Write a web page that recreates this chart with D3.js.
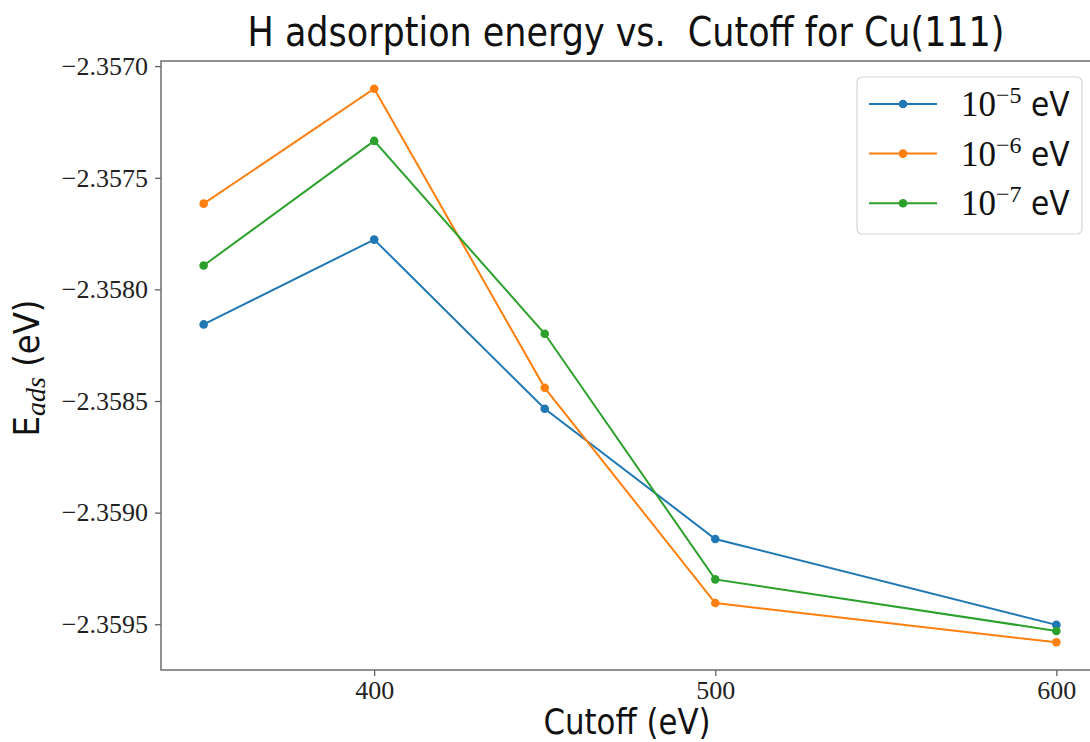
<!DOCTYPE html>
<html>
<head>
<meta charset="utf-8">
<script src="https://cdn.jsdelivr.net/npm/d3@7/dist/d3.min.js"></script>
<style>
  html, body { margin: 0; padding: 0; background: #fff; }
  svg { display: block; }
</style>
</head>
<body>
<svg id="chart" width="1090" height="742"></svg>
<script>
// Plane-wave cutoff energies (eV)
const cutoffs = [350, 400, 450, 500, 600];

// H adsorption energy (eV) for each SCF convergence threshold
const eads1e5 = [-2.358157, -2.357777, -2.358535, -2.359118, -2.359503];
const eads1e6 = [-2.357616, -2.357101, -2.358441, -2.359405, -2.359581];
const eads1e7 = [-2.357893, -2.357335, -2.358199, -2.359299, -2.359530];

const seriesNames = [["10", "\u22125", " eV"], ["10", "\u22126", " eV"], ["10", "\u22127", " eV"]];
const seriesColors = ["#1f77b4", "#ff7f0e", "#2ca02c"];

const xTicks = [400, 500, 600];
const yTicks = [-2.3570, -2.3575, -2.3580, -2.3585, -2.3590, -2.3595];

const series = [eads1e5, eads1e6, eads1e7].map((vals, i) => ({
  name: seriesNames[i],
  color: seriesColors[i],
  points: cutoffs.map((c, j) => ({ x: c, y: vals[j] }))
}));

const svg = d3.select("#chart");
const plot = { left: 161, right: 1099, top: 61, bottom: 670 };

// Axis limits padded by 5% of the data span on each side
const allY = [].concat(eads1e5, eads1e6, eads1e7);
const xExt = d3.extent(cutoffs), yExt = d3.extent(allY);
const xPad = (xExt[1] - xExt[0]) * 0.05, yPad = (yExt[1] - yExt[0]) * 0.05;

const x = d3.scaleLinear().domain([xExt[0] - xPad, xExt[1] + xPad]).range([plot.left, plot.right]);
const y = d3.scaleLinear().domain([yExt[0] - yPad, yExt[1] + yPad]).range([plot.bottom, plot.top]);

const serif = "'Liberation Serif', 'DejaVu Serif', serif";
const sans = "'DejaVu Sans Condensed', 'Liberation Sans Narrow', 'Liberation Sans', sans-serif";

// Axes
const xAxis = svg.append("g")
  .attr("transform", `translate(0,${plot.bottom})`)
  .call(d3.axisBottom(x).tickValues(xTicks).tickSize(6).tickPadding(5).tickFormat(d3.format("d")));
const yAxis = svg.append("g")
  .attr("transform", `translate(${plot.left},0)`)
  .call(d3.axisLeft(y).tickValues(yTicks).tickSize(6).tickPadding(7).tickFormat(d3.format(".4f")));

[xAxis, yAxis].forEach(g => {
  g.select(".domain").remove();
  g.selectAll(".tick line").attr("stroke", "#555").attr("stroke-width", 1.2);
  g.selectAll(".tick text").attr("font-family", serif).attr("font-size", 26).attr("fill", "#222");
});

// Frame around the plotting area
svg.append("rect")
  .attr("x", plot.left).attr("y", plot.top)
  .attr("width", plot.right - plot.left).attr("height", plot.bottom - plot.top)
  .attr("fill", "none").attr("stroke", "#6e6e6e").attr("stroke-width", 1.5);

// Lines and markers
const line = d3.line().x(d => x(d.x)).y(d => y(d.y));
const gSeries = svg.append("g");
series.forEach(s => {
  gSeries.append("path")
    .datum(s.points)
    .attr("d", line)
    .attr("fill", "none")
    .attr("stroke", s.color)
    .attr("stroke-width", 2);
  gSeries.selectAll(null)
    .data(s.points)
    .enter().append("circle")
    .attr("cx", d => x(d.x)).attr("cy", d => y(d.y))
    .attr("r", 4.3)
    .attr("fill", s.color);
});

// Title
svg.append("text")
  .attr("x", 626).attr("y", 46)
  .attr("text-anchor", "middle")
  .attr("font-family", sans).attr("font-size", 41).attr("fill", "#111")
  .style("white-space", "pre")
  .attr("textLength", 757).attr("lengthAdjust", "spacingAndGlyphs")
  .text("H adsorption energy vs.  Cutoff for Cu(111)");

// X label
svg.append("text")
  .attr("x", 627).attr("y", 734)
  .attr("text-anchor", "middle")
  .attr("font-family", sans).attr("font-size", 35).attr("fill", "#111")
  .attr("textLength", 167).attr("lengthAdjust", "spacingAndGlyphs")
  .text("Cutoff (eV)");

// Y label: E_ads (eV)
const yl = svg.append("text")
  .attr("transform", "translate(39,368) rotate(-90)")
  .attr("text-anchor", "middle")
  .attr("font-family", sans).attr("font-size", 36).attr("fill", "#111");
yl.append("tspan").text("E");
yl.append("tspan").attr("font-family", serif).attr("font-style", "italic")
  .attr("font-size", 28).attr("dy", 6).text("ads");
yl.append("tspan").attr("dy", -6).text(" (eV)");

// Legend
const lg = { x: 857, y: 77, w: 225, h: 157 };
svg.append("rect")
  .attr("x", lg.x).attr("y", lg.y).attr("width", lg.w).attr("height", lg.h)
  .attr("rx", 5).attr("ry", 5)
  .attr("fill", "#fff").attr("fill-opacity", 0.8)
  .attr("stroke", "#d6d6d6").attr("stroke-width", 1.2);

series.forEach((s, i) => {
  const cy = lg.y + 27 + i * 49.6;
  svg.append("line")
    .attr("x1", lg.x + 12).attr("x2", lg.x + 80)
    .attr("y1", cy).attr("y2", cy)
    .attr("stroke", s.color).attr("stroke-width", 2);
  svg.append("circle")
    .attr("cx", lg.x + 46).attr("cy", cy).attr("r", 4.3)
    .attr("fill", s.color);
  const t = svg.append("text")
    .attr("x", lg.x + 104).attr("y", cy + 12)
    .attr("fill", "#111");
  t.append("tspan").attr("font-family", serif).attr("font-size", 35).text(s.name[0]);
  t.append("tspan").attr("font-family", serif).attr("font-size", 24).attr("dy", -13).text(s.name[1]);
  t.append("tspan").attr("font-family", sans).attr("font-size", 33).attr("dy", 13).text(s.name[2]);
});
</script>
</body>
</html>
